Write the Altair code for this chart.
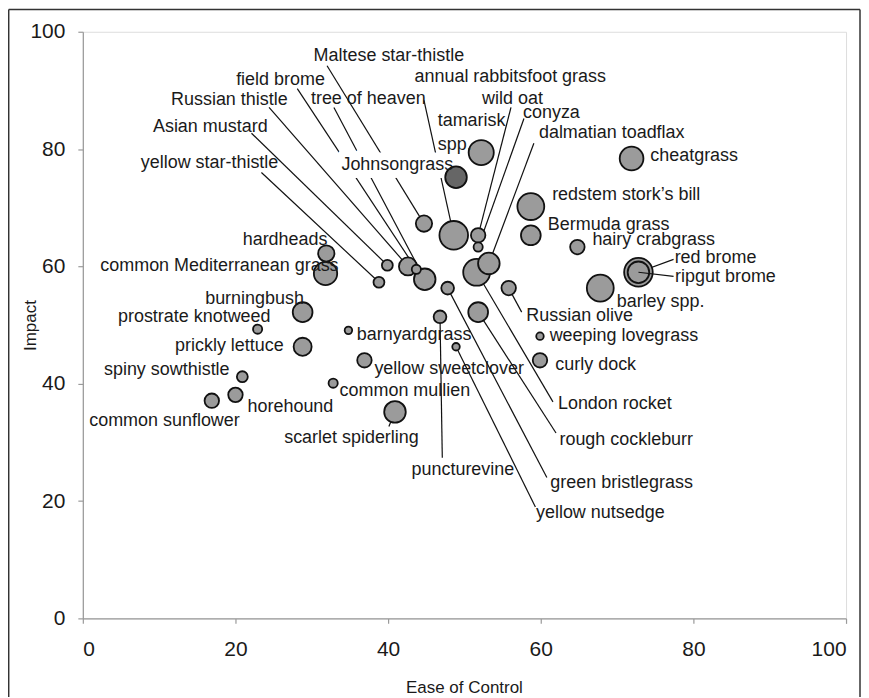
import altair as alt
import pandas as pd

# ---- data ----
names = [
    "cheatgrass", "tamarisk spp.", "Johnsongrass", "Maltese star-thistle",
    "annual rabbitsfoot grass", "wild oat", "conyza", "dalmatian toadflax",
    "London rocket", "redstem stork\u2019s bill", "Bermuda grass", "hairy crabgrass",
    "red brome", "ripgut brome", "barley spp.", "Russian olive",
    "weeping lovegrass", "curly dock", "rough cockleburr", "green bristlegrass",
    "puncturevine", "yellow nutsedge", "yellow sweetclover", "common mullien",
    "scarlet spiderling", "barnyardgrass", "hardheads", "common Mediterranean grass",
    "burningbush", "prostrate knotweed", "prickly lettuce", "spiny sowthistle",
    "horehound", "common sunflower", "Asian mustard", "Russian thistle",
    "field brome", "tree of heaven", "yellow star-thistle",
]
ease = [
    71.9, 52.2, 48.9, 44.7,
    48.6, 51.8, 51.8, 53.2,
    51.6, 58.7, 58.7, 64.8,
    72.8, 72.8, 67.8, 55.8,
    59.9, 59.9, 51.8, 47.8,
    46.8, 48.9, 36.9, 32.8,
    40.9, 34.8, 31.9, 31.8,
    28.8, 22.9, 28.8, 20.9,
    20.0, 16.9, 39.9, 42.6,
    43.7, 44.8, 38.8,
]
impact = [
    78.4, 79.4, 75.2, 67.3,
    65.3, 65.3, 63.3, 60.5,
    59.0, 70.2, 65.3, 63.3,
    59.0, 59.0, 56.3, 56.3,
    48.1, 44.0, 52.2, 56.3,
    51.4, 46.3, 44.0, 40.1,
    35.2, 49.1, 62.2, 58.8,
    52.2, 49.3, 46.3, 41.2,
    38.1, 37.1, 60.2, 60.0,
    59.5, 57.8, 57.3,
]
# third variable (bubble size)
spread = [
    180, 202, 149, 85,
    262, 67, 27, 149,
    231, 231, 125, 67,
    262, 149, 231, 67,
    18, 67, 125, 52,
    52, 18, 67, 27,
    149, 18, 85, 174,
    125, 27, 104, 38,
    67, 67, 38, 104,
    27, 149, 38,
]

# ---- label layout (data units) ----
label_x = [
    80.1, 46.5, 41.2, 40.1,
    56.0, 56.3, 61.4, 69.3,
    69.7, 71.2, 68.9, 74.8,
    82.9, 84.2, 75.7, 65.1,
    70.9, 67.2, 71.2, 70.6,
    49.8, 67.8, 48.0, 42.2,
    35.2, 43.4, 26.5, 17.9,
    22.5, 14.6, 19.2, 11.0,
    27.2, 10.7, 16.7, 19.2,
    25.9, 37.4, 16.6,
]
label_y = [
    78.9, 86.4, 77.2, 95.9,
    92.2, 88.6, 86.1, 82.7,
    36.6, 72.1, 67.0, 64.5,
    61.4, 58.2, 53.9, 51.5,
    48.1, 43.2, 30.4, 23.1,
    25.3, 17.9, 42.5, 38.8,
    30.8, 48.3, 64.5, 60.0,
    54.4, 51.4, 46.4, 42.4,
    36.1, 33.7, 83.7, 88.3,
    91.7, 88.6, 77.7,
]

# leader lines: label-side end (data units), other end is the bubble
leader_names = [
    "Maltese star-thistle", "field brome", "Russian thistle", "tree of heaven",
    "Asian mustard", "yellow star-thistle", "annual rabbitsfoot grass", "wild oat",
    "conyza", "dalmatian toadflax", "scarlet spiderling", "Russian olive",
    "puncturevine", "yellow nutsedge", "green bristlegrass", "rough cockleburr",
    "London rocket", "red brome", "ripgut brome",
]
leader_x = [32.0, 28.1, 24.4, 32.9, 22.1, 23.4, 44.7, 56.1, 57.8, 59.1,
            40.1, 57.5, 47.1, 59.3, 60.8, 62.0, 61.6, 77.4, 77.4]
leader_y = [94.2, 90.3, 87.1, 87.1, 82.7, 76.0, 88.3, 87.1, 85.2, 81.0,
            32.7, 52.2, 27.4, 19.0, 24.0, 31.6, 36.9, 61.2, 58.3]

df = pd.DataFrame({"name": names, "ease": ease, "impact": impact,
                   "spread": spread, "lx": label_x, "ly": label_y})
ld = pd.DataFrame({"name": leader_names, "leader_x": leader_x, "leader_y": leader_y})
ld = ld.merge(df[["name", "ease", "impact"]], on="name")

FONT = "Liberation Sans"
TXT = "#1a1a1a"
AX = "#9a9a9a"

xscale = alt.Scale(domain=[0, 100], nice=False, zero=False)
yscale = alt.Scale(domain=[0, 100], nice=False, zero=False)
xaxis = alt.Axis(title="Ease of Control", values=[0, 20, 40, 60, 80, 100], grid=False,
                 domainColor=AX, tickColor=AX, tickSize=5, domainWidth=1.2, tickWidth=1.2,
                 labelFont=FONT, labelFontSize=21, labelColor=TXT, labelPadding=15,
                 titleFont=FONT, titleFontSize=17, titleFontWeight="normal", titleColor=TXT,
                 titleX=382, titleY=69, titleAlign="center", titleBaseline="middle")
yaxis = alt.Axis(title="Impact", values=[0, 20, 40, 60, 80, 100], grid=False,
                 domainColor=AX, tickColor=AX, tickSize=5, domainWidth=1.2, tickWidth=1.2,
                 labelFont=FONT, labelFontSize=21, labelColor=TXT, labelPadding=13,
                 titleFont=FONT, titleFontSize=17, titleFontWeight="normal", titleColor=TXT,
                 titleX=-52, titleY=294, titleAngle=270, titleAlign="center",
                 titleBaseline="middle")


def X(f):
    return alt.X(f"{f}:Q", scale=xscale, axis=xaxis)


def Y(f):
    return alt.Y(f"{f}:Q", scale=yscale, axis=yaxis)


base_lead = alt.Chart(ld)
leaders = base_lead.transform_filter("datum.name != 'ripgut brome'").mark_rule(
    color="#111", strokeWidth=1.2).encode(
    x=X("leader_x"), y=Y("leader_y"), x2="ease:Q", y2="impact:Q")
leader_top = base_lead.transform_filter("datum.name == 'ripgut brome'").mark_rule(
    color="#111", strokeWidth=1.2).encode(
    x=X("leader_x"), y=Y("leader_y"), x2="ease:Q", y2="impact:Q")

base = alt.Chart(df)
halo = base.transform_filter("datum.name == 'Johnsongrass'").mark_text(
    font=FONT, fontSize=18, stroke="white", strokeWidth=16, strokeJoin="round",
    fill="white").encode(x=X("lx"), y=Y("ly"), text="name:N")

bubbles = base.mark_circle(opacity=1, stroke="#111", strokeWidth=1.8).encode(
    x=X("ease"), y=Y("impact"),
    size=alt.Size("spread:Q", scale=alt.Scale(type="linear", domain=[0, 300],
                                              range=[0, 942]), legend=None),
    color=alt.condition("datum.name == 'Johnsongrass'", alt.value("#666666"),
                        alt.value("#9b9b9b")),
    order=alt.Order("spread:Q", sort="descending"),
)

labels = base.transform_filter("datum.name != 'tamarisk spp.'").mark_text(
    font=FONT, fontSize=18, color=TXT, align="center", baseline="middle").encode(
    x=X("lx"), y=Y("ly"), text="name:N")

tam = base.transform_filter("datum.name == 'tamarisk spp.'").transform_calculate(
    lbl="split('tamarisk|spp.', '|')").mark_text(
    font=FONT, fontSize=18, color=TXT, align="left", baseline="top",
    lineHeight=25).encode(x=X("lx"), y=Y("ly"), text="lbl:N")

one = alt.Chart(pd.DataFrame({"a": [0]}))
frame_l = one.mark_rule(color="#333", strokeWidth=1.5).encode(
    x=alt.value(-74.3), y=alt.value(-22.3), y2=alt.value(700))
frame_t = one.mark_rule(color="#333", strokeWidth=1.5).encode(
    x=alt.value(-74.3), x2=alt.value(779), y=alt.value(-22.3))
frame_r = one.mark_rule(color="#333", strokeWidth=1.5).encode(
    x=alt.value(779), y=alt.value(-22.3), y2=alt.value(700))

chart = alt.layer(leaders, halo, bubbles, labels, tam, leader_top,
                  frame_l, frame_t, frame_r).properties(
    width=765, height=588,
    autosize=alt.AutoSizeParams(type="none"),
    padding={"left": 75, "top": 23, "right": 15, "bottom": 78},
).configure_view(stroke=None).configure(background="white")

chart.save("out.html", embed_options={"renderer": "svg", "actions": False})
